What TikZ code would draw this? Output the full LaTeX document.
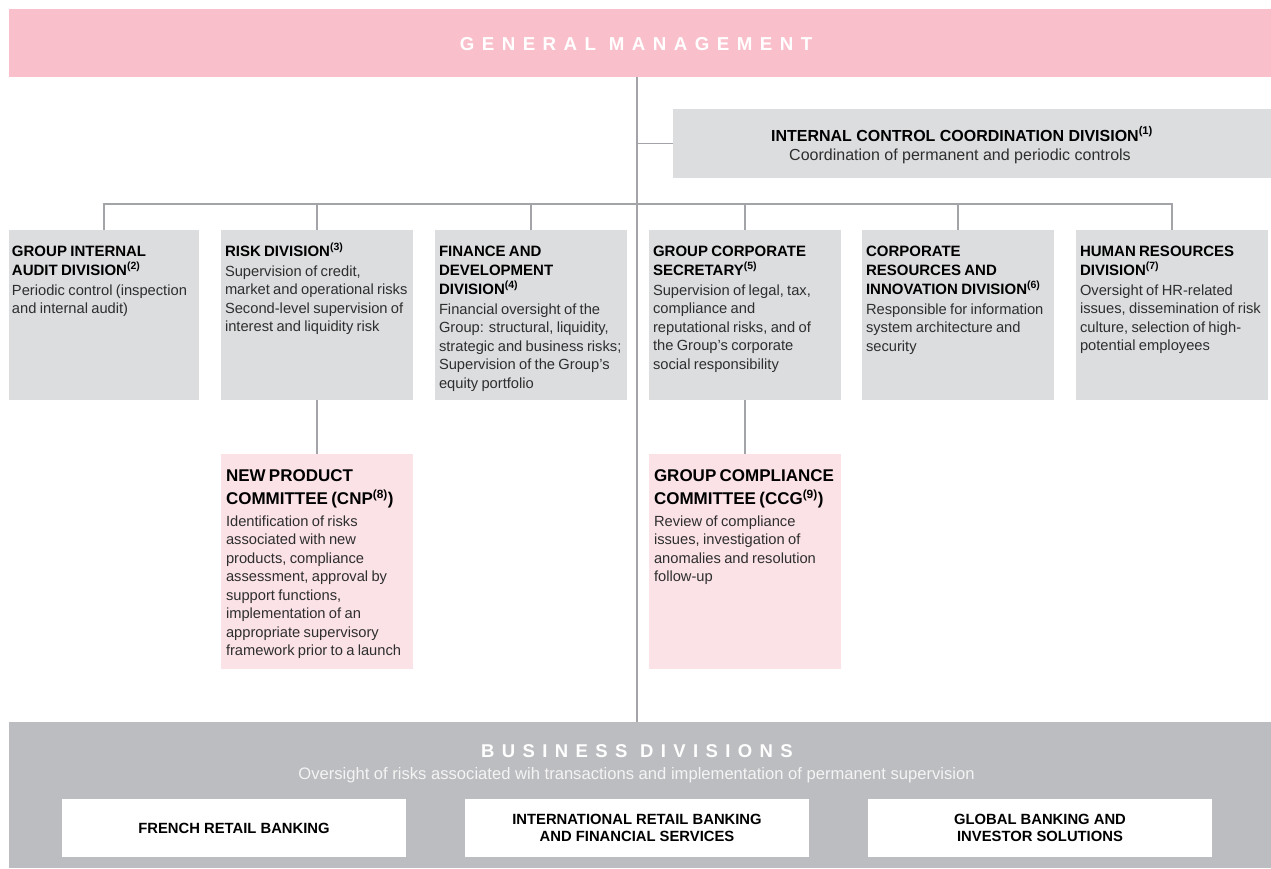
\documentclass[tikz,border=0pt]{standalone}
\usepackage{fontspec}
\setmainfont{Liberation Sans}
\definecolor{hdrpink}{HTML}{F9C0CB}
\definecolor{boxp}{HTML}{FBE2E7}
\definecolor{boxg}{HTML}{DCDDDF}
\definecolor{busg}{HTML}{BCBDC0}
\definecolor{lineg}{HTML}{A3A4A7}
\definecolor{bodyc}{HTML}{2E2E2E}
\definecolor{subw}{HTML}{F4F4F4}
\newcommand\sps[1]{\textsuperscript{(#1)}}
\newcommand\gttl[1]{{\fontsize{15}{19}\selectfont\bfseries\color{black}\rule{0pt}{14pt}#1\par}\vspace{1.5pt}}
\newcommand\pttl[1]{{\fontsize{17}{23.5}\selectfont\bfseries\color{black}\rule{0pt}{14pt}#1\par}\vspace{3pt}}
\newcommand\bdy[1]{{\fontsize{14.7}{18.5}\selectfont\color{bodyc}#1\par}}
\tikzset{
  conn/.style={draw=lineg, line width=1.8pt},
  gbox/.style={fill=boxg, draw=none, minimum width=192pt, minimum height=170pt, anchor=north west, inner sep=0pt, outer sep=0pt},
  pbox/.style={fill=boxp, draw=none, minimum width=192pt, minimum height=215pt, anchor=north west, inner sep=0pt, outer sep=0pt},
  wbox/.style={fill=white, draw=none, minimum width=344pt, minimum height=58pt, inner sep=0pt, outer sep=0pt, align=center, font=\fontsize{14.8}{17}\selectfont\bfseries},
  txt/.style={anchor=north west, text width=200pt, align=left, inner sep=0pt, outer sep=0pt},
}
\begin{document}
\begin{tikzpicture}[x=1pt,y=-1pt]
\useasboundingbox (0,0) rectangle (1271,868);
% header
\node[fill=hdrpink, draw=none, minimum width=1262pt, minimum height=68pt, anchor=north west, inner sep=0pt, outer sep=0pt] (gm) at (9,9) {};
\node[anchor=base, inner sep=0pt, text=white, font=\fontsize{18.7}{20}\selectfont\bfseries\addfontfeature{LetterSpace=40}] (gmt) at (636,50.7) {GENERAL MANAGEMENT};
% internal control
\node[fill=boxg, draw=none, minimum width=598pt, minimum height=69pt, anchor=north west, inner sep=0pt, outer sep=0pt] (icc) at (673,109) {};
\node[anchor=base, inner sep=0pt, font=\fontsize{16}{19}\selectfont\bfseries] (icct) at (962,141) {INTERNAL CONTROL COORDINATION DIVISION\sps{1}};
\node[anchor=base, inner sep=0pt, text=bodyc, font=\fontsize{16}{19}\selectfont] (iccs) at (960,160) {Coordination of permanent and periodic controls};
% business divisions
\node[fill=busg, draw=none, minimum width=1262pt, minimum height=146pt, anchor=north west, inner sep=0pt, outer sep=0pt] (bd) at (9,722) {};
\node[anchor=base, inner sep=0pt, text=white, font=\fontsize{18.5}{20}\selectfont\bfseries\addfontfeature{LetterSpace=40}] (bdt) at (637,757) {BUSINESS DIVISIONS};
\node[anchor=base, inner sep=0pt, text=subw, font=\fontsize{16.6}{18}\selectfont] (bds) at (636.5,779) {Oversight of risks associated wih transactions and implementation of permanent supervision};
\node[wbox] (w1) at (234,828) {FRENCH RETAIL BANKING};
\node[wbox] (w2) at (637,828) {INTERNATIONAL RETAIL BANKING\\AND FINANCIAL SERVICES};
\node[wbox] (w3) at (1040,828) {GLOBAL BANKING AND\\INVESTOR SOLUTIONS};
% division boxes
\node[gbox, minimum width=190pt] (b1) at (9,230) {};
\node[gbox] (b2) at (221,230) {};
\node[gbox] (b3) at (435,230) {};
\node[gbox] (b4) at (649,230) {};
\node[gbox] (b5) at (862,230) {};
\node[gbox] (b6) at (1076,230) {};
\node[pbox] (p1) at (221,454) {};
\node[pbox] (p2) at (649,454) {};
% connectors
\coordinate (trunk) at (637,0);
\coordinate (bus) at (0,204);
\draw[conn] (trunk |- gm.south) -- (trunk |- bd.north);
\draw[conn] (trunk |- icc.west) -- (icc.west);
\draw[conn] (b1.north) -- (b1.north |- bus) -- (b6.north |- bus) -- (b6.north);
\draw[conn] (b2.north) -- (b2.north |- bus);
\draw[conn] (b3.north) -- (b3.north |- bus);
\draw[conn] (b4.north) -- (b4.north |- bus);
\draw[conn] (b5.north) -- (b5.north |- bus);
\draw[conn] (b2.south) -- (p1.north);
\draw[conn] (b4.south) -- (p2.north);
% texts
\node[txt] (t1) at (12,242) {\gttl{GROUP INTERNAL\\AUDIT DIVISION\sps{2}}\bdy{Periodic control (inspection\\and internal audit)}};
\node[txt] (t2) at (225,242) {\gttl{RISK DIVISION\sps{3}}\bdy{Supervision of credit,\\market and operational risks\\Second-level supervision of\\interest and liquidity risk}};
\node[txt] (t3) at (439,242) {\gttl{FINANCE AND\\DEVELOPMENT\\DIVISION\sps{4}}\bdy{Financial oversight of the\\Group: structural, liquidity,\\strategic and business risks;\\Supervision of the Group's\\equity portfolio}};
\node[txt] (t4) at (653,242) {\gttl{GROUP CORPORATE\\SECRETARY\sps{5}}\bdy{Supervision of legal, tax,\\compliance and\\reputational risks, and of\\the Group's corporate\\social responsibility}};
\node[txt] (t5) at (866,242) {\gttl{CORPORATE\\RESOURCES AND\\INNOVATION DIVISION\sps{6}}\bdy{Responsible for information\\system architecture and\\security}};
\node[txt] (t6) at (1080,242) {\gttl{HUMAN RESOURCES\\DIVISION\sps{7}}\bdy{Oversight of HR-related\\issues, dissemination of risk\\culture, selection of high-\\potential employees}};
\node[txt] (t7) at (226,467) {\pttl{NEW PRODUCT\\COMMITTEE (CNP\sps{8})}\bdy{Identification of risks\\associated with new\\products, compliance\\assessment, approval by\\support functions,\\implementation of an\\appropriate supervisory\\framework prior to a launch}};
\node[txt] (t8) at (654,467) {\pttl{GROUP COMPLIANCE\\COMMITTEE (CCG\sps{9})}\bdy{Review of compliance\\issues, investigation of\\anomalies and resolution\\follow-up}};
\end{tikzpicture}
\end{document}
